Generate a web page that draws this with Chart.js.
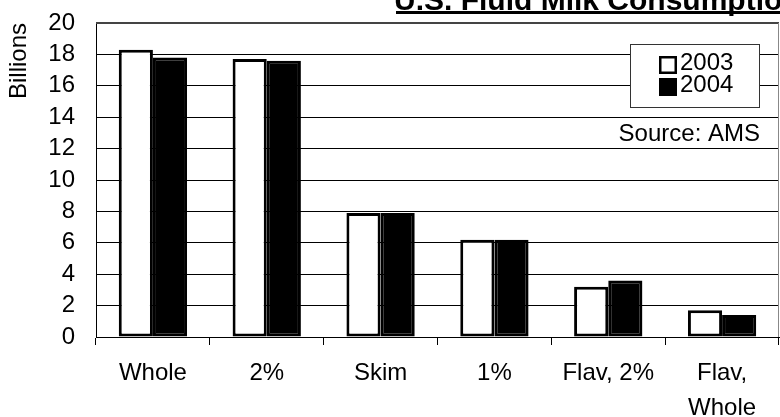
<!DOCTYPE html>
<html>
<head>
<meta charset="utf-8">
<title>U.S. Fluid Milk Consumption</title>
<script src="https://cdn.jsdelivr.net/npm/chart.js@4.4.1/dist/chart.umd.min.js"></script>
<style>
  html, body { margin: 0; padding: 0; background: #fff; }
  #wrap { width: 780px; height: 417px; }
</style>
</head>
<body>
<div id="wrap"><canvas id="milkChart"></canvas></div>
<script>
const categories = ['Whole', '2%', 'Skim', '1%', 'Flav, 2%', ['Flav,', 'Whole']];
const seriesNames = ['2003', '2004'];
const values2003 = [18.3, 17.7, 7.9, 6.2, 3.2, 1.7];
const values2004 = [17.8, 17.6, 7.9, 6.2, 3.6, 1.4];
const yMin = 0;
const yMax = 20;
const yStep = 2;

const FONT = "'Liberation Sans', Arial, sans-serif";

// title (underlined, runs off the top/right edge like the original) and the source note
const titlePlugin = {
    id: 'milkTitle',
    afterDraw(chart) {
        const ctx = chart.ctx;
        const area = chart.chartArea;
        ctx.save();
        ctx.fillStyle = '#000';
        ctx.font = 'bold 30px ' + FONT;
        ctx.textBaseline = 'alphabetic';
        ctx.textAlign = 'left';
        ctx.fillText('U.S. Fluid Milk Consumption', 394, 10);
        ctx.fillRect(396, 11, chart.width - 396, 3);

        ctx.font = '24px ' + FONT;
        ctx.textAlign = 'right';
        ctx.fillText('Source: AMS', 760, 141);

        // plot area frame
        ctx.strokeStyle = '#444';
        ctx.lineWidth = 2;
        ctx.beginPath();
        ctx.moveTo(area.left, area.top);
        ctx.lineTo(area.right, area.top);
        ctx.stroke();
        ctx.strokeStyle = '#888';
        ctx.lineWidth = 1;
        ctx.beginPath();
        ctx.moveTo(area.right - 0.5, area.top);
        ctx.lineTo(area.right - 0.5, area.bottom);
        ctx.stroke();
        ctx.restore();
    }
};

// boxed legend inside the plot area
const boxLegend = {
    id: 'boxLegend',
    afterDraw(chart) {
        const ctx = chart.ctx;
        ctx.save();
        ctx.fillStyle = '#fff';
        ctx.fillRect(630, 44, 129, 64);
        ctx.strokeStyle = '#333';
        ctx.lineWidth = 1;
        ctx.strokeRect(630.5, 44.5, 129, 63);

        ctx.font = '24px ' + FONT;
        ctx.textBaseline = 'alphabetic';
        ctx.textAlign = 'left';
        chart.data.datasets.forEach((ds, i) => {
            const y = 56 + i * 22;
            ctx.fillStyle = ds.backgroundColor;
            ctx.fillRect(659, y, 18, 18);
            ctx.strokeStyle = '#000';
            ctx.lineWidth = 2.5;
            ctx.strokeRect(660.25, y + 1.25, 15.5, 15.5);
            ctx.fillStyle = '#000';
            ctx.fillText(ds.label, 680, y + 14);
        });
        ctx.restore();
    }
};

const ctx = document.getElementById('milkChart').getContext('2d');
new Chart(ctx, {
    type: 'bar',
    data: {
        labels: categories,
        datasets: [{
            label: seriesNames[0],
            data: values2003,
            backgroundColor: '#ffffff',
            borderColor: '#000000',
            borderWidth: 3,
            borderSkipped: false
        }, {
            label: seriesNames[1],
            data: values2004,
            backgroundColor: '#000000',
            borderColor: '#000000',
            borderWidth: 3,
            borderSkipped: false
        }]
    },
    options: {
        responsive: true,
        maintainAspectRatio: false,
        animation: false,
        layout: { padding: { left: 0, right: 1, top: 23, bottom: 0 } },
        datasets: {
            bar: { categoryPercentage: 0.6, barPercentage: 1.0 }
        },
        plugins: {
            legend: { display: false },
            title: { display: false },
            tooltip: { enabled: false }
        },
        scales: {
            x: {
                offset: true,
                grid: {
                    display: true,
                    offset: true,
                    drawOnChartArea: false,
                    drawTicks: true,
                    tickLength: 8,
                    color: '#000'
                },
                border: { display: true, color: '#000', width: 1 },
                ticks: {
                    color: '#000',
                    padding: 11,
                    maxRotation: 0,
                    autoSkip: false,
                    font: { family: FONT, size: 24, lineHeight: 1.45 }
                },
                afterFit(scale) { scale.height = 80; }
            },
            y: {
                min: yMin,
                max: yMax,
                grid: {
                    color: '#000',
                    lineWidth: 1,
                    drawTicks: true,
                    tickLength: 21,
                    tickColor: 'rgba(0,0,0,0)'
                },
                border: { display: true, color: '#000', width: 1 },
                ticks: {
                    stepSize: yStep,
                    autoSkip: false,
                    color: '#000',
                    padding: 0,
                    font: { family: FONT, size: 24 }
                },
                title: {
                    display: true,
                    text: 'Billions',
                    align: 'end',
                    color: '#000',
                    padding: { top: 5, bottom: 0 },
                    font: { family: FONT, size: 24 }
                },
                afterFit(scale) { scale.width = 96; }
            }
        }
    },
    plugins: [titlePlugin, boxLegend]
});
</script>
</body>
</html>
